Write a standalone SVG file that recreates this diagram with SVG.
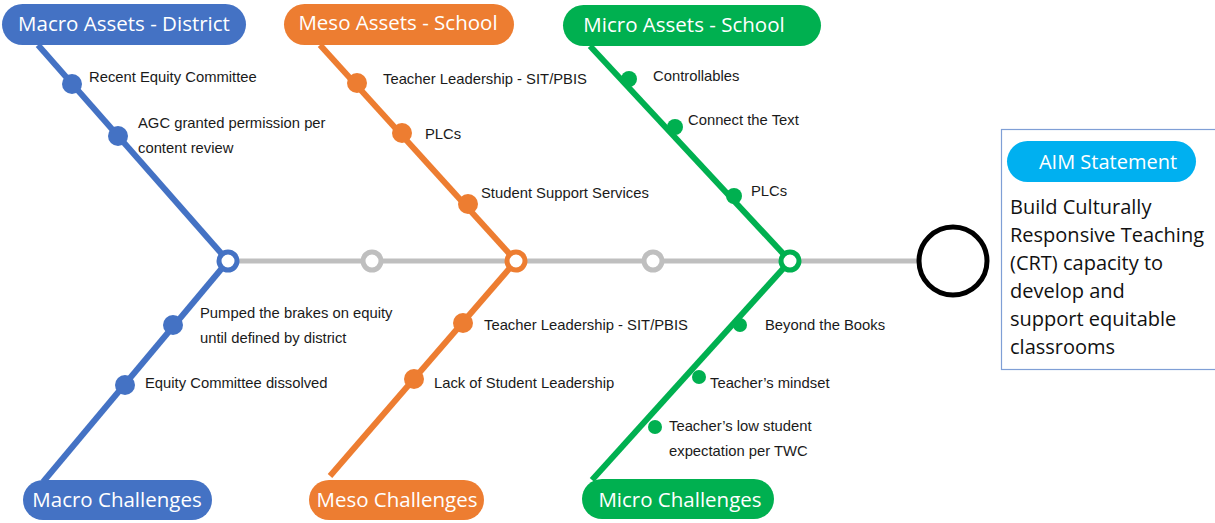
<svg xmlns="http://www.w3.org/2000/svg" width="1215" height="523" viewBox="0 0 1215 523">
  <style>
    .pill-text { font-family: "Open Sans", "Noto Sans", sans-serif; font-size: 20.5px; fill: #ffffff; }
    .lbl { font-family: "Liberation Sans", "DejaVu Sans", sans-serif; font-size: 14.8px; fill: #1a1a1a; }
    .aim { font-family: "Open Sans", "Noto Sans", sans-serif; font-size: 20px; fill: #111111; }
    .blue { stroke: #4472c4; fill: #4472c4; }
    .orange { stroke: #ed7d31; fill: #ed7d31; }
    .green { stroke: #00b050; fill: #00b050; }
    .bone { stroke-width: 6; fill: none; }
    .joint { fill: #ffffff; stroke-width: 5; }
  </style>

  <!-- connectors: spine and bones -->
  <g id="connectors">
    <line x1="228" y1="261" x2="920" y2="261" stroke="#bfbfbf" stroke-width="5"/>
    <circle cx="372" cy="261" r="9" fill="#ffffff" stroke="#bfbfbf" stroke-width="5"/>
    <circle cx="653" cy="261" r="9" fill="#ffffff" stroke="#bfbfbf" stroke-width="5"/>

    <line class="blue bone" x1="38" y1="45" x2="228" y2="261"/>
    <line class="blue bone" x1="228" y1="261" x2="43" y2="482"/>
    <line class="orange bone" x1="320" y1="45" x2="516" y2="261"/>
    <line class="orange bone" x1="516" y1="261" x2="330" y2="476"/>
    <line class="green bone" x1="590" y1="46" x2="790" y2="261"/>
    <line class="green bone" x1="790" y1="261" x2="592" y2="480"/>

    <circle class="blue joint" cx="228" cy="261" r="9"/>
    <circle class="orange joint" cx="516" cy="261" r="9"/>
    <circle class="green joint" cx="790" cy="261" r="9"/>
  </g>

  <!-- Macro: district assets and challenges -->
  <g id="macro-assets">
    <rect x="2" y="4" width="244" height="41" rx="20.5" fill="#4472c4"/>
    <text class="pill-text" x="124" y="31" text-anchor="middle">Macro Assets - District</text>
    <circle cx="72" cy="84" r="10" fill="#4472c4"/>
    <text class="lbl" x="89" y="82">Recent Equity Committee</text>
    <circle cx="118" cy="136" r="10" fill="#4472c4"/>
    <text class="lbl" x="138" y="128">AGC granted permission per</text>
    <text class="lbl" x="138" y="153">content review</text>
  </g>
  <g id="macro-challenges">
    <rect x="23" y="480" width="189" height="40" rx="20" fill="#4472c4"/>
    <text class="pill-text" x="117" y="507" text-anchor="middle">Macro Challenges</text>
    <circle cx="173" cy="325" r="10" fill="#4472c4"/>
    <text class="lbl" x="200" y="318">Pumped the brakes on equity</text>
    <text class="lbl" x="200" y="343">until defined by district</text>
    <circle cx="125" cy="385" r="10" fill="#4472c4"/>
    <text class="lbl" x="145" y="388">Equity Committee dissolved</text>
  </g>

  <!-- Meso: school assets and challenges -->
  <g id="meso-assets">
    <rect x="284" y="4" width="230" height="41" rx="20.5" fill="#ed7d31"/>
    <text class="pill-text" x="398" y="30" text-anchor="middle">Meso Assets - School</text>
    <circle cx="357" cy="83" r="10" fill="#ed7d31"/>
    <text class="lbl" x="383" y="84">Teacher Leadership - SIT/PBIS</text>
    <circle cx="402" cy="133" r="10" fill="#ed7d31"/>
    <text class="lbl" x="425" y="139">PLCs</text>
    <circle cx="468" cy="204" r="10" fill="#ed7d31"/>
    <text class="lbl" x="481" y="198">Student Support Services</text>
  </g>
  <g id="meso-challenges">
    <rect x="309" y="480" width="175" height="40" rx="20" fill="#ed7d31"/>
    <text class="pill-text" x="397" y="507" text-anchor="middle">Meso Challenges</text>
    <circle cx="463" cy="323" r="10" fill="#ed7d31"/>
    <text class="lbl" x="484" y="330">Teacher Leadership - SIT/PBIS</text>
    <circle cx="414" cy="379" r="10" fill="#ed7d31"/>
    <text class="lbl" x="434" y="388">Lack of Student Leadership</text>
  </g>

  <!-- Micro: school assets and challenges -->
  <g id="micro-assets">
    <rect x="563" y="5" width="258" height="41" rx="20.5" fill="#00b050"/>
    <text class="pill-text" x="684" y="32" text-anchor="middle">Micro Assets - School</text>
    <circle cx="629" cy="79" r="8" fill="#00b050"/>
    <text class="lbl" x="653" y="81">Controllables</text>
    <circle cx="675" cy="127" r="8" fill="#00b050"/>
    <text class="lbl" x="688" y="125">Connect the Text</text>
    <circle cx="734" cy="196" r="8" fill="#00b050"/>
    <text class="lbl" x="751" y="196">PLCs</text>
  </g>
  <g id="micro-challenges">
    <rect x="582" y="479" width="192" height="40" rx="20" fill="#00b050"/>
    <text class="pill-text" x="680" y="507" text-anchor="middle">Micro Challenges</text>
    <circle cx="740" cy="325" r="7" fill="#00b050"/>
    <text class="lbl" x="765" y="330">Beyond the Books</text>
    <circle cx="699" cy="377" r="7" fill="#00b050"/>
    <text class="lbl" x="710" y="388">Teacher’s mindset</text>
    <circle cx="655" cy="427" r="7" fill="#00b050"/>
    <text class="lbl" x="669" y="431">Teacher’s low student</text>
    <text class="lbl" x="669" y="456">expectation per TWC</text>
  </g>

  <!-- Fish head -->
  <g id="head">
    <circle cx="953" cy="261" r="34" fill="#ffffff" stroke="#000000" stroke-width="5"/>
  </g>

  <!-- Aim statement panel -->
  <g id="aim-statement">
    <rect x="1001.5" y="129.5" width="220" height="240" fill="#ffffff" stroke="#7f9fd6" stroke-width="1.2"/>
    <rect x="1007" y="141" width="189" height="41" rx="20.5" fill="#00b0f0"/>
    <text class="pill-text" x="1108" y="169" text-anchor="middle" style="font-size:20px">AIM Statement</text>
    <text class="aim" x="1010" y="214">Build Culturally</text>
    <text class="aim" x="1010" y="242">Responsive Teaching</text>
    <text class="aim" x="1010" y="270">(CRT) capacity to</text>
    <text class="aim" x="1010" y="298">develop and</text>
    <text class="aim" x="1010" y="326">support equitable</text>
    <text class="aim" x="1010" y="354">classrooms</text>
  </g>
</svg>
